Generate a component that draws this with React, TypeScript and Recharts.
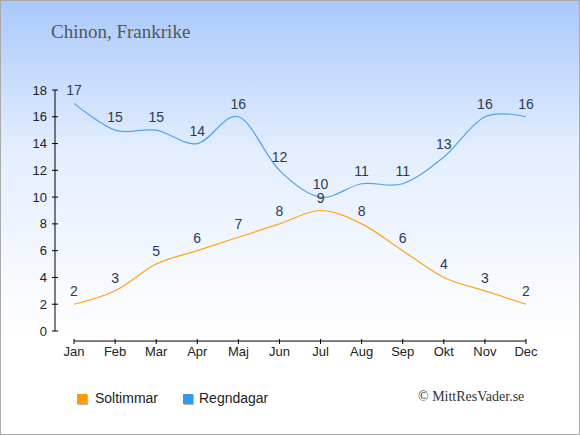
import React from "react";
import { LineChart, Line, XAxis, YAxis, LabelList, ReferenceLine } from "recharts";

const months = ["Jan", "Feb", "Mar", "Apr", "Maj", "Jun", "Jul", "Aug", "Sep", "Okt", "Nov", "Dec"];
const soltimmar = [2, 3, 5, 6, 7, 8, 9, 8, 6, 4, 3, 2];
const regndagar = [17, 15, 15, 14, 16, 12, 10, 11, 11, 13, 16, 16];
const yTicks = [0, 2, 4, 6, 8, 10, 12, 14, 16, 18];

const data = months.map((m, i) => ({ month: m, sol: soltimmar[i], regn: regndagar[i] }));

const SANS = "'Liberation Sans', Arial, sans-serif";
const SERIF = "'Liberation Serif', 'Times New Roman', serif";
const ORANGE = "#ffa31a";
const BLUE = "#4ea3ee";
const LABEL = "#2a3a58";

// Cardinal (Catmull-Rom, tension 0) curve factory, d3-shape compatible.
function cardinalCurve(context: any) {
  let pts: number[][] = [];
  const k = 1 / 6;
  return {
    areaStart() {},
    areaEnd() {},
    lineStart() {
      pts = [];
    },
    point(x: number, y: number) {
      pts.push([+x, +y]);
    },
    lineEnd() {
      const n = pts.length;
      if (n === 0) return;
      context.moveTo(pts[0][0], pts[0][1]);
      if (n === 1) return;
      if (n === 2) {
        context.lineTo(pts[1][0], pts[1][1]);
        return;
      }
      for (let i = 0; i < n - 1; i++) {
        const p0 = pts[i];
        const p1 = pts[i + 1];
        const pm = i > 0 ? pts[i - 1] : null;
        const pn = i + 2 < n ? pts[i + 2] : null;
        const c1x = pm ? p0[0] + k * (p1[0] - pm[0]) : p0[0];
        const c1y = pm ? p0[1] + k * (p1[1] - pm[1]) : p0[1];
        const c2x = pn ? p1[0] - k * (pn[0] - p0[0]) : p1[0];
        const c2y = pn ? p1[1] - k * (pn[1] - p0[1]) : p1[1];
        context.bezierCurveTo(c1x, c1y, c2x, c2y, p1[0], p1[1]);
      }
    },
  };
}

const YTick = (props: any) => {
  const { x, y, payload } = props;
  return (
    <g>
      <line x1={x + 5} x2={x + 11} y1={y} y2={y} stroke="#000" strokeWidth={1} />
      <text x={x} y={y} dy="0.35em" textAnchor="end" fontSize={13} fontFamily={SANS} fill="#222">
        {payload.value}
      </text>
    </g>
  );
};

const XTick = (props: any) => {
  const { x, y, payload } = props;
  return (
    <g>
      <line x1={x} x2={x} y1={y - 8} y2={y - 3} stroke="#000" strokeWidth={1} />
      <text x={x} y={y} dy="0.71em" textAnchor="middle" fontSize={13} fontFamily={SANS} fill="#222">
        {payload.value}
      </text>
    </g>
  );
};

export default function App() {
  return (
    <div
      style={{
        position: "absolute",
        left: 0,
        top: 0,
        width: 580,
        height: 435,
        background: "linear-gradient(to bottom, #a9c9fc 0%, #e4eefe 35%, #ffffff 78%)",
        overflow: "hidden",
      }}
    >
      <div
        style={{
          position: "absolute",
          left: 51,
          top: 22,
          fontFamily: SERIF,
          fontSize: 19,
          lineHeight: "19px",
          color: "#555",
          whiteSpace: "nowrap",
        }}
      >
        Chinon, Frankrike
      </div>
      <div style={{ position: "absolute", left: 0, top: 0 }}>
        <LineChart width={580} height={435} data={data} margin={{ top: 90, right: 54, left: 15, bottom: 74 }}>
          <XAxis
            dataKey="month"
            height={30}
            padding={{ left: 19, right: 0 }}
            axisLine={false}
            tickLine={false}
            tickSize={0}
            tickMargin={16}
            interval={0}
            tick={<XTick />}
          />
          <YAxis
            width={40}
            domain={[0, 18]}
            ticks={yTicks}
            interval={0}
            axisLine={{ stroke: "#000", strokeWidth: 1 }}
            tickLine={false}
            tickSize={3}
            tickMargin={5}
            tick={<YTick />}
          />
          <ReferenceLine
            segment={[
              { x: months[0], y: -0.75 },
              { x: months[months.length - 1], y: -0.75 },
            ]}
            stroke="#000"
            strokeWidth={1}
            ifOverflow="visible"
          />
          <Line
            type={cardinalCurve as any}
            dataKey="sol"
            stroke={ORANGE}
            strokeWidth={1.2}
            dot={false}
            isAnimationActive={false}
          >
            <LabelList dataKey="sol" position="top" offset={8} fill={LABEL} fontSize={14} fontFamily={SANS} />
          </Line>
          <Line
            type={cardinalCurve as any}
            dataKey="regn"
            stroke={BLUE}
            strokeWidth={1.2}
            dot={false}
            isAnimationActive={false}
          >
            <LabelList dataKey="regn" position="top" offset={8} fill={LABEL} fontSize={14} fontFamily={SANS} />
          </Line>
        </LineChart>
      </div>
      <div style={{ position: "absolute", left: 77, top: 394, width: 10, height: 10, background: "#ff9a00", boxShadow: "1px 1px 1px #bbb" }} />
      <div style={{ position: "absolute", left: 95, top: 390, fontFamily: SANS, fontSize: 14, lineHeight: "16px", color: "#222" }}>
        Soltimmar
      </div>
      <div style={{ position: "absolute", left: 183, top: 394, width: 10, height: 10, background: "#3399ee", boxShadow: "1px 1px 1px #bbb" }} />
      <div style={{ position: "absolute", left: 199, top: 390, fontFamily: SANS, fontSize: 14, lineHeight: "16px", color: "#222" }}>
        Regndagar
      </div>
      <div style={{ position: "absolute", left: 418, top: 389, fontFamily: SERIF, fontSize: 14, lineHeight: "16px", color: "#333", whiteSpace: "nowrap" }}>
        © MittResVader.se
      </div>
      <div
        style={{
          position: "absolute",
          left: 0,
          top: 0,
          width: 580,
          height: 435,
          boxSizing: "border-box",
          border: "1px solid #aaa",
          pointerEvents: "none",
        }}
      />
    </div>
  );
}
